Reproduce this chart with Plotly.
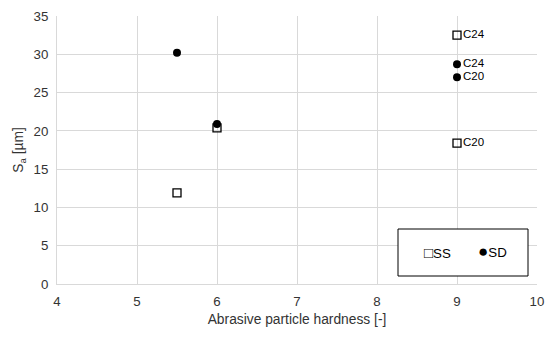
import plotly.graph_objects as go

ss_x = [5.5, 6, 9, 9]
ss_y = [11.9, 20.4, 32.5, 18.4]
ss_labels = ["", "", "C24", "C20"]

sd_x = [5.5, 6, 9, 9]
sd_y = [30.2, 20.9, 28.7, 27.0]
sd_labels = ["", "", "C24", "C20"]

x_ticks = [4, 5, 6, 7, 8, 9, 10]
y_ticks = [0, 5, 10, 15, 20, 25, 30, 35]

L, R, T, B = 57, 537, 16, 284
W = R - L
H = B - T

fig = go.Figure()
series = [
    ("SS", ss_x, ss_y, ss_labels, dict(symbol="square-open", size=8, color="#000", line=dict(width=1.3, color="#000"))),
    ("SD", sd_x, sd_y, sd_labels, dict(symbol="circle", size=8, color="#000")),
]
for name, xs, ys, labs, mk in series:
    fig.add_trace(go.Scatter(x=xs, y=ys, mode="markers", name=name, marker=mk, showlegend=False))
    idx = [i for i, t in enumerate(labs) if t]
    fig.add_trace(go.Scatter(
        x=[xs[i] for i in idx], y=[ys[i] for i in idx], text=[labs[i] for i in idx],
        mode="markers+text", textposition="middle right",
        textfont=dict(size=11.5, color="#000"),
        marker=dict(size=8, opacity=0), showlegend=False, hoverinfo="skip",
    ))

# legend box
fig.add_shape(type="rect", xref="paper", yref="paper",
              x0=(398 - L) / W, x1=(528 - L) / W, y0=(B - 276) / H, y1=(B - 229) / H,
              line=dict(color="#000", width=1), fillcolor="white", layer="above")
for txt, cx, cy in [("<span style='font-size:15px'>□</span>SS", 437, 252.5),
                    ("<span style='font-size:17px'>●</span>SD", 492, 251.5)]:
    fig.add_annotation(text=txt, xref="paper", yref="paper", x=(cx - L) / W, y=(B - cy) / H,
                       xanchor="center", yanchor="middle", showarrow=False,
                       font=dict(size=13.3, color="#000"))

fig.update_layout(
    width=545, height=338,
    margin=dict(l=L, r=545 - R, t=T, b=338 - B, autoexpand=False),
    paper_bgcolor="white", plot_bgcolor="white",
    font=dict(family="Liberation Sans, Arial, sans-serif", size=13.3, color="#000"),
    showlegend=False,
    xaxis=dict(range=[4, 10], tickvals=x_ticks, showgrid=True, gridcolor="#d9d9d9", gridwidth=1,
               zeroline=False, showline=True, linecolor="#d9d9d9", automargin=False,
               ticks="outside", ticklen=5, tickcolor="rgba(0,0,0,0)",
               tickfont=dict(size=13.3, color="#333"),
               title=dict(text="Abrasive particle hardness [-]", font=dict(size=13.8, color="#333"), standoff=6)),
    yaxis=dict(range=[0, 35], tickvals=y_ticks, showgrid=True, gridcolor="#d9d9d9", gridwidth=1,
               zeroline=False, showline=True, linecolor="#d9d9d9", automargin=False,
               ticks="outside", ticklen=5, tickcolor="rgba(0,0,0,0)",
               tickfont=dict(size=13.3, color="#333"),
               title=dict(text="S<sub>a</sub> [µm]", font=dict(size=13.8, color="#333"), standoff=6)),
)

fig.write_html("out.html")
